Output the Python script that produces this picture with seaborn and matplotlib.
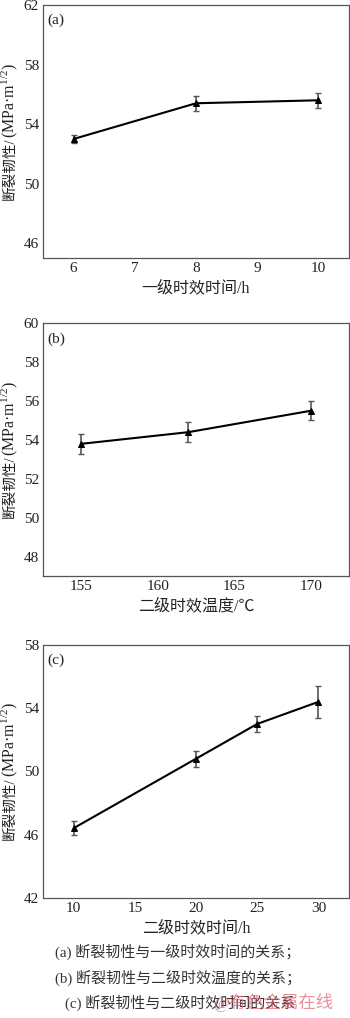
import numpy as np
import pandas as pd
import matplotlib
matplotlib.use("Agg")
import matplotlib.pyplot as plt
import seaborn as sns

sns.set_theme(style="white")
plt.rcParams['font.family'] = ['Liberation Serif', 'Noto Sans CJK SC']
plt.rcParams['mathtext.fontset'] = 'custom'
plt.rcParams['mathtext.rm'] = 'Liberation Serif'
plt.rcParams['mathtext.it'] = 'Liberation Serif:italic'

# Panel (a)
a_x = [6, 8, 10]
a_y = [53.0, 55.4, 55.6]
a_err = [0.3, 0.5, 0.5]
# Panel (b)
b_x = [155, 162, 170]
b_y = [53.8, 54.4, 55.5]
b_err = [0.5, 0.5, 0.5]
# Panel (c)
c_x = [10, 20, 25, 30]
c_y = [46.4, 50.8, 53.0, 54.4]
c_err = [0.45, 0.5, 0.5, 1.0]

ylabel_cjk = "断裂韧性/"
ylabel_unit = "(MPa·m$^{\\mathregular{1/2}}$)"
xlabels = ["一级时效时间/h", "二级时效温度/℃", "二级时效时间/h"]
tags = ["(a)", "(b)", "(c)"]
xticks_list = [[6, 7, 8, 9, 10], [155, 160, 165, 170], [10, 15, 20, 25, 30]]
yticks_list = [[46, 50, 54, 58, 62], [48, 50, 52, 54, 56, 58, 60], [42, 46, 50, 54, 58]]
xlims = [(5.5, 10.5), (152.5, 172.5), (7.5, 32.5)]
ylims = [(45, 62), (47, 60), (42, 58)]
captions = ["(a) 断裂韧性与一级时效时间的关系；",
            "(b) 断裂韧性与二级时效温度的关系；",
            "(c) 断裂韧性与二级时效时间的关系"]

fig = plt.figure(figsize=(3.5, 10.18), dpi=100)
boxes = [(0.123, 0.7466, 0.874, 0.2484),
         (0.123, 0.4342, 0.874, 0.2482),
         (0.123, 0.1182, 0.874, 0.2482)]
data = [(a_x, a_y, a_err), (b_x, b_y, b_err), (c_x, c_y, c_err)]

label_pairs = []
for i, (box, (xs, ys, es)) in enumerate(zip(boxes, data)):
    ax = fig.add_axes(box)
    df = pd.DataFrame({"x": xs, "y": ys})
    ax.errorbar(xs, ys, yerr=es, fmt='none', ecolor='#555555', elinewidth=1.2,
                capsize=2.5, capthick=1.0, zorder=2)
    sns.lineplot(data=df, x="x", y="y", ax=ax, color='black', linewidth=1.5,
                 marker='^', markersize=4, markeredgecolor='black', zorder=3)
    ax.set_xlim(*xlims[i])
    ax.set_ylim(*ylims[i])
    ax.set_xticks(xticks_list[i])
    ax.set_yticks(yticks_list[i])
    ax.tick_params(direction='in', length=3, width=0.8, labelsize=11,
                   colors='#333333', labelcolor='#222222', pad=3)
    for sp in ax.spines.values():
        sp.set_color('#555555')
        sp.set_linewidth(0.9)
    ax.set_xlabel(xlabels[i], fontsize=11.5, color='#222222', labelpad=4)
    ax.set_ylabel("")
    ax.text(0.015, 0.965, tags[i], transform=ax.transAxes, fontsize=11,
            va='top', ha='left', color='#222222')
    ax.grid(False)
    # y label built from two pieces (CJK + unit with superscript)
    x_fig = 10 / 350
    yc = box[1] + box[3] / 2
    t1 = fig.text(x_fig, yc, ylabel_cjk, rotation=90, fontsize=10.5,
                  ha='center', va='top', color='#222222')
    t2 = fig.text(x_fig, yc, ylabel_unit, rotation=90, fontsize=11.5,
                  ha='center', va='bottom', color='#222222')
    label_pairs.append((t1, t2, yc))

fig.canvas.draw()
renderer = fig.canvas.get_renderer()
H = fig.get_figheight() * fig.dpi
for t1, t2, yc in label_pairs:
    h1 = t1.get_window_extent(renderer).height / H
    h2 = t2.get_window_extent(renderer).height / H
    total = h1 + h2
    y0 = yc - total / 2 + h1
    t1.set_y(y0)
    t2.set_y(y0)

cap_y = [951.7, 977.7, 1002.7]
cap_x = [178, 178, 180]
for t, yy, xx in zip(captions, cap_y, cap_x):
    fig.text(xx / 350, 1 - yy / 1018, t, fontsize=10.8, ha='center', va='center',
             color='#333333')

fig.text(213 / 350, 1 - 1003 / 1018, "@有色金属在线", fontsize=12.5, ha='left',
         va='center', color='#e06070', alpha=0.7)

fig.savefig("out.png", dpi=100)
